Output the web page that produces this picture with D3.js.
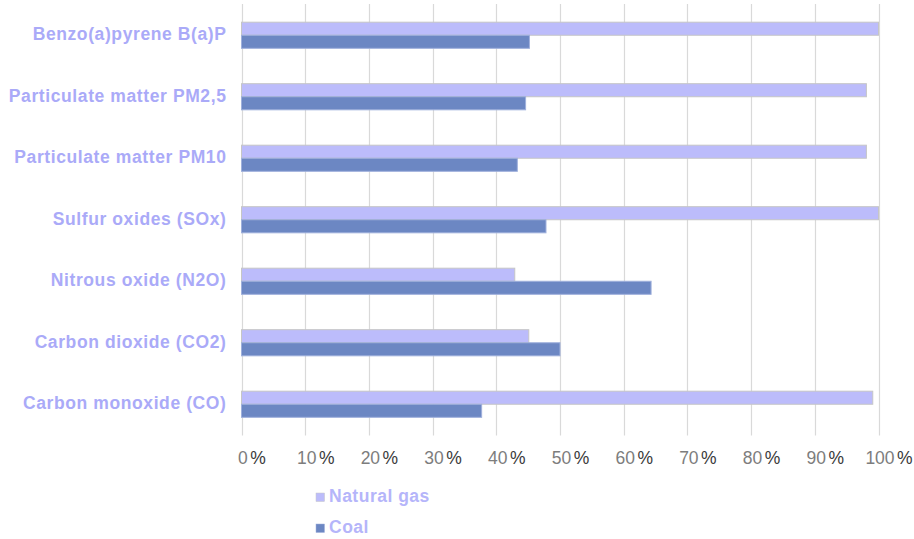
<!DOCTYPE html>
<html>
<head>
<meta charset="utf-8">
<script src="https://cdn.jsdelivr.net/npm/d3@7/dist/d3.min.js"></script>
<style>
  body { margin: 0; background: #fff; }
  svg { display: block; font-family: "Liberation Sans", Arial, sans-serif; }
</style>
</head>
<body>
<svg id="chart" width="914" height="539"></svg>
<script>
const categories = [
  "Benzo(a)pyrene B(a)P",
  "Particulate matter PM2,5",
  "Particulate matter PM10",
  "Sulfur oxides (SOx)",
  "Nitrous oxide (N2O)",
  "Carbon dioxide (CO2)",
  "Carbon monoxide (CO)"
];
const naturalGas = [100, 98.1, 98.1, 100, 42.9, 45.1, 99.1];
const coal = [45.2, 44.6, 43.3, 47.8, 64.3, 50.0, 37.7];
const seriesNames = ["Natural gas", "Coal"];
const tickValues = [0, 10, 20, 30, 40, 50, 60, 70, 80, 90, 100];

const colors = { "Natural gas": "#bcbcfb", "Coal": "#6c87c3" };
const strokes = { "Natural gas": "#c6c6c6", "Coal": "#9fb0dc" };

const svg = d3.select("#chart");
const plotLeft = 241.5, plotRight = 878.5, plotTop = 4, plotBottom = 434.5;

const x = d3.scaleLinear().domain([0, 100]).range([plotLeft, plotRight]);
const y = d3.scaleBand().domain(categories).range([plotTop, plotBottom]).paddingInner(0.575).paddingOuter(0.2875);
const ys = d3.scaleBand().domain(seriesNames).range([0, y.bandwidth()]);

// gridlines
svg.append("g").selectAll("line").data(tickValues).join("line")
  .attr("x1", d => Math.round(x(d)) + 0.5).attr("x2", d => Math.round(x(d)) + 0.5)
  .attr("y1", plotTop).attr("y2", plotBottom + 1)
  .attr("stroke", "#d9d9d9").attr("stroke-width", 1.2);

// bars
const data = [];
categories.forEach((c, i) => {
  data.push({ cat: c, series: "Natural gas", value: naturalGas[i] });
  data.push({ cat: c, series: "Coal", value: coal[i] });
});
svg.append("g").selectAll("rect").data(data).join("rect")
  .attr("x", x(0))
  .attr("y", d => y(d.cat) + ys(d.series) + 0.5)
  .attr("width", d => x(d.value) - x(0))
  .attr("height", ys.bandwidth())
  .attr("fill", d => colors[d.series])
  .attr("stroke", d => strokes[d.series])
  .attr("stroke-width", 1);

// x axis labels
const xAxis = d3.axisBottom(x).tickValues(tickValues).tickSize(0).tickFormat(d => d);
const gx = svg.append("g").attr("transform", `translate(10,${plotBottom + 14})`).call(xAxis);
gx.select(".domain").remove();
gx.selectAll("text")
  .attr("fill", "#7d7d7d")
  .attr("font-size", "17.5px")
  .attr("font-family", "'Liberation Sans', Arial, sans-serif")
  .append("tspan").attr("dx", 2.5).attr("fill", "#3a3a3a").text("%");

// y axis labels
const yAxis = d3.axisLeft(y).tickSize(0).tickPadding(15);
const gy = svg.append("g").attr("transform", `translate(${plotLeft},0)`).call(yAxis);
gy.select(".domain").remove();
gy.selectAll("text")
  .attr("fill", "#aaaaf8")
  .attr("font-size", "17.5px")
  .attr("font-weight", "bold")
  .attr("letter-spacing", "0.6px")
  .attr("font-family", "'Liberation Sans', Arial, sans-serif");

// legend
const legend = svg.append("g").selectAll("g").data(seriesNames).join("g")
  .attr("transform", (d, i) => `translate(316,${502 + i * 31})`);
legend.append("rect").attr("x", 0).attr("y", -9).attr("width", 8.5).attr("height", 8.5)
  .attr("fill", d => colors[d]).attr("stroke", d => strokes[d]).attr("stroke-width", 0.5);
legend.append("text").attr("x", 13).attr("y", 0)
  .attr("fill", "#b5b5fa").attr("font-size", "17.5px").attr("font-weight", "bold")
  .attr("letter-spacing", "0.5px")
  .text(d => d);
</script>
</body>
</html>
